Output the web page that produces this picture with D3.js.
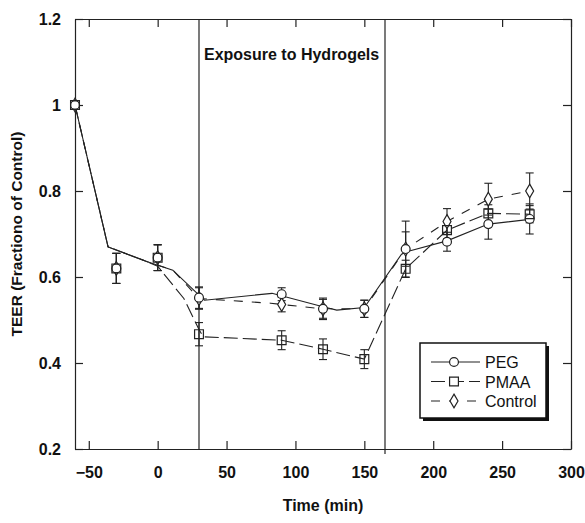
<!DOCTYPE html>
<html>
<head>
<meta charset="utf-8">
<script src="https://cdn.jsdelivr.net/npm/d3@7"></script>
<style>
	body { margin: 0; background: #fff; }
	.axis text { font-family: "Liberation Sans", Arial, sans-serif; font-weight: bold; font-size: 16px; fill: #111; }
	.axis path, .axis line { stroke: #222; stroke-width: 1.2; }
	.lbl { font-family: "Liberation Sans", Arial, sans-serif; font-weight: bold; fill: #111; }
	.legend text { font-family: "Liberation Sans", Arial, sans-serif; font-size: 16px; fill: #111; }
</style>
</head>
<body>
<div id="chart"></div>
<script>

// time points (min) where the measurements were made
var times = [-60, -30, 0, 30, 90, 120, 150, 180, 210, 240, 270];

// mean TEER values (fraction of control) and error bars
var peg        = [1.0, 0.62, 0.645, 0.552, 0.560, 0.526, 0.526, 0.665, 0.682, 0.723, 0.735];
var pegErr     = [0, 0.035, 0.03, 0.025, 0.015, 0.022, 0.02, 0.04, 0.022, 0.035, 0.035];
var pmaa       = [1.0, 0.62, 0.645, 0.467, 0.453, 0.432, 0.409, 0.619, 0.709, 0.748, 0.746];
var pmaaErr    = [0, 0.035, 0.03, 0.027, 0.022, 0.024, 0.022, 0.02, 0.02, 0.02, 0.02];
var control    = [1.0, 0.62, 0.645, 0.550, 0.536, 0.526, 0.526, 0.665, 0.729, 0.781, 0.800];
var controlErr = [0, 0.035, 0.03, 0.025, 0.017, 0.025, 0.02, 0.065, 0.03, 0.037, 0.042];

// the connecting lines in the original do not go exactly through the symbols,
// so their vertices are read separately off the picture
var pegLineT = [-60, -36, -8, 11, 30, 34, 83, 120, 130, 150, 177, 182, 210, 240, 270];
var pegLineV = [1.0, 0.67, 0.636, 0.616, 0.558, 0.546, 0.562, 0.531, 0.523, 0.529, 0.653, 0.66, 0.684, 0.723, 0.734];
var pmaaLineT = [-60, -36, -8, 0, 19, 30, 33, 90, 120, 150, 180, 210, 240, 270];
var pmaaLineV = [1.0, 0.67, 0.636, 0.625, 0.55, 0.478, 0.461, 0.453, 0.432, 0.409, 0.619, 0.709, 0.748, 0.746];
var controlLineT = [-60, -36, -8, 11, 30, 82, 90, 120, 150, 180, 210, 240, 270];
var controlLineV = [1.0, 0.67, 0.636, 0.616, 0.55, 0.539, 0.536, 0.526, 0.526, 0.665, 0.729, 0.781, 0.8];

// exposure window
var exposureStart = 30, exposureEnd = 165;

// axes
var xTicks = [-50, 0, 50, 100, 150, 200, 250, 300];
var yTicks = [0.2, 0.4, 0.6, 0.8, 1.0, 1.2];
var yTickLabels = ["0.2", "0.4", "0.6", "0.8", "1", "1.2"];
var seriesNames = ["PEG", "PMAA", "Control"];

var margin = {top: 19, right: 14, bottom: 74, left: 75},
	width = 585 - margin.left - margin.right,
	height = 523 - margin.top - margin.bottom;

var xScale = d3.scaleLinear()
	.domain([-60, 300])
	.range([0, width]);

var yScale = d3.scaleLinear()
	.domain([0.2, 1.2])
	.range([height, 0]);

var svg = d3.select("#chart").append("svg")
	.attr("width", width + margin.left + margin.right)
	.attr("height", height + margin.top + margin.bottom)
  .append("g")
	.attr("transform", "translate(" + margin.left + "," + margin.top + ")");

// frame with inward ticks on all four sides
svg.append("g")
	.attr("class", "x axis")
	.attr("transform", "translate(0," + height + ")")
	.call(d3.axisBottom(xScale).tickValues(xTicks).tickSizeInner(-8).tickSizeOuter(0).tickPadding(18));

svg.append("g")
	.attr("class", "x axis")
	.call(d3.axisTop(xScale).tickValues(xTicks).tickSizeInner(-8).tickSizeOuter(0).tickFormat(""));

svg.append("g")
	.attr("class", "y axis")
	.call(d3.axisLeft(yScale).tickValues(yTicks).tickSizeInner(-8).tickSizeOuter(0).tickPadding(14)
		.tickFormat(function(d, i) { return yTickLabels[i]; }));

svg.append("g")
	.attr("class", "y axis")
	.attr("transform", "translate(" + width + ",0)")
	.call(d3.axisRight(yScale).tickValues(yTicks).tickSizeInner(-8).tickSizeOuter(0).tickFormat(""));

// vertical markers for the exposure period
svg.append("line")
	.attr("x1", xScale(exposureStart)).attr("x2", xScale(exposureStart))
	.attr("y1", 0).attr("y2", height)
	.style("stroke", "#222").style("stroke-width", 1.2);

svg.append("line")
	.attr("x1", xScale(exposureEnd)).attr("x2", xScale(exposureEnd))
	.attr("y1", 0).attr("y2", height + 5)
	.style("stroke", "#222").style("stroke-width", 1.2);

svg.append("text")
	.attr("class", "lbl")
	.attr("x", xScale(exposureStart) + 5)
	.attr("y", 41)
	.style("font-size", "16px")
	.text("Exposure to Hydrogels");

// axis titles
svg.append("text")
	.attr("class", "lbl")
	.attr("text-anchor", "middle")
	.attr("x", width / 2)
	.attr("y", height + 62)
	.style("font-size", "16px")
	.text("Time (min)");

svg.append("text")
	.attr("class", "lbl")
	.attr("text-anchor", "middle")
	.attr("transform", "translate(" + (-53) + "," + (height / 2) + ") rotate(-90)")
	.style("font-size", "15.5px")
	.text("TEER (Fractiono of Control)");

// series definitions built from the arrays above
var series = [
	{name: seriesNames[0], vals: peg, err: pegErr, lt: pegLineT, lv: pegLineV, dash: null, shape: "circle"},
	{name: seriesNames[1], vals: pmaa, err: pmaaErr, lt: pmaaLineT, lv: pmaaLineV, dash: "14,5", shape: "square"},
	{name: seriesNames[2], vals: control, err: controlErr, lt: controlLineT, lv: controlLineV, dash: "9,9", shape: "diamond"}
];

var line = d3.line()
	.x(function(d) { return xScale(d[0]); })
	.y(function(d) { return yScale(d[1]); });

series.forEach(function(s) {
	svg.append("path")
		.datum(d3.zip(s.lt, s.lv))
		.attr("d", line)
		.style("fill", "none")
		.style("stroke", "#222")
		.style("stroke-width", 1.1)
		.style("stroke-dasharray", s.dash);
});

// error bars
series.forEach(function(s) {
	var pts = d3.zip(times, s.vals, s.err).filter(function(d) { return d[2] > 0; });
	var g = svg.append("g");
	g.selectAll(".eb").data(pts).enter().append("line")
		.attr("x1", function(d) { return xScale(d[0]); })
		.attr("x2", function(d) { return xScale(d[0]); })
		.attr("y1", function(d) { return yScale(d[1] - d[2]); })
		.attr("y2", function(d) { return yScale(d[1] + d[2]); })
		.style("stroke", "#222").style("stroke-width", 1.1);
	[-1, 1].forEach(function(sign) {
		g.selectAll(".cap").data(pts).enter().append("line")
			.attr("x1", function(d) { return xScale(d[0]) - 4; })
			.attr("x2", function(d) { return xScale(d[0]) + 4; })
			.attr("y1", function(d) { return yScale(d[1] + sign * d[2]); })
			.attr("y2", function(d) { return yScale(d[1] + sign * d[2]); })
			.style("stroke", "#222").style("stroke-width", 1.1);
	});
});

var symbolTypes = {circle: d3.symbolCircle, square: d3.symbolSquare, diamond: d3.symbolDiamond};
var symbolSizes = {circle: 62, square: 78, diamond: 55};
var symbolFill = {circle: "#fff", square: "none", diamond: "#fff"};

function drawSymbol(sel, shape, fill) {
	sel.attr("d", d3.symbol().type(symbolTypes[shape]).size(symbolSizes[shape]))
		.style("fill", fill || symbolFill[shape])
		.style("stroke", "#222")
		.style("stroke-width", 1.2);
}

// markers: diamonds, circles, then open squares on top
[series[2], series[0], series[1]].forEach(function(s) {
	svg.selectAll(".m-" + s.shape)
		.data(d3.zip(times, s.vals))
	  .enter().append("path")
		.attr("class", "m-" + s.shape)
		.attr("transform", function(d) { return "translate(" + xScale(d[0]) + "," + yScale(d[1]) + ")"; })
		.call(drawSymbol, s.shape);
});

/* Legend */
var lg = svg.append("g")
	.attr("class", "legend")
	.attr("transform", "translate(" + (xScale(165) + 35) + "," + (yScale(0.4) - 20) + ")");

lg.append("rect")
	.attr("x", 3).attr("y", 3)
	.attr("width", 126).attr("height", 75)
	.style("fill", "#111");
lg.append("rect")
	.attr("width", 126).attr("height", 75)
	.style("fill", "#fff")
	.style("stroke", "#111")
	.style("stroke-width", 1.5);

var item = lg.selectAll(".item")
	.data(series)
  .enter().append("g")
	.attr("class", "item")
	.attr("transform", function(d, i) { return "translate(0," + (19 + i * 19.5) + ")"; });

item.append("line")
	.attr("x1", 11).attr("x2", 60)
	.style("stroke", "#222")
	.style("stroke-width", 1.1)
	.style("stroke-dasharray", function(d) { return d.dash; });

item.append("path")
	.attr("transform", "translate(34,0)")
	.each(function(d) { d3.select(this).call(drawSymbol, d.shape, "#fff"); });

item.append("text")
	.attr("x", 65)
	.attr("y", 6)
	.text(function(d) { return d.name; });

</script>
</body>
</html>
